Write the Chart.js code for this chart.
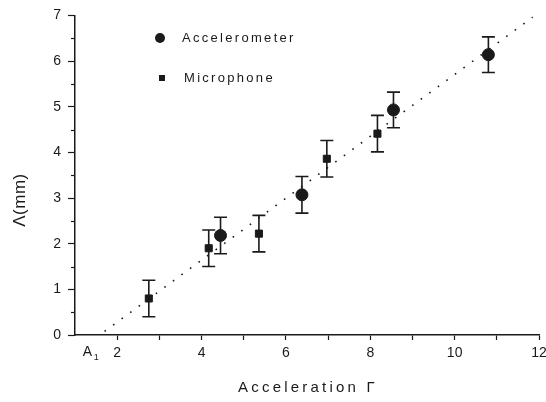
<!DOCTYPE html>
<html>
<head>
<meta charset="utf-8">
<script src="https://cdn.jsdelivr.net/npm/chart.js@4"></script>
<style>
  html, body { margin: 0; padding: 0; background: #fff; }
  #wrap { width: 546px; height: 402px; }
</style>
</head>
<body>
<div id="wrap"><canvas id="chart" width="546" height="402"></canvas></div>
<script>
// accelerometer readings (circles)
const accelX = [4.45, 6.38, 8.55, 10.8];
const accelY = [2.18, 3.07, 4.93, 6.14];
const accelErr = [0.4, 0.4, 0.39, 0.39];

// microphone readings (squares)
const micX = [2.75, 4.17, 5.36, 6.97, 8.17];
const micY = [0.8, 1.9, 2.22, 3.86, 4.41];
const micErr = [0.4, 0.4, 0.4, 0.4, 0.4];

// dotted linear fit
const fitX = [1.7, 11.85];
const fitY = [0.08, 6.96];

const xTickValues = [2, 3, 4, 5, 6, 7, 8, 9, 10, 11, 12];
const xTickLabels = ['2', '', '4', '', '6', '', '8', '', '10', '', '12'];
const yTickLabels = ['0', '1', '2', '3', '4', '5', '6', '7'];

const ink = '#1a1a1a';

function toPoints(xs, ys) {
    return xs.map((x, i) => ({ x: x, y: ys[i] }));
}

// error bars, minor ticks, legend, axis titles
const extras = {
    id: 'extras',
    afterDatasetsDraw(chart) {
        const ctx = chart.ctx;
        const xs = chart.scales.x;
        const ys = chart.scales.y;
        ctx.save();
        ctx.strokeStyle = ink;
        ctx.lineWidth = 1.6;
        const bars = [[accelX, accelY, accelErr], [micX, micY, micErr]];
        bars.forEach(([bx, by, be]) => {
            bx.forEach((x, i) => {
                const px = xs.getPixelForValue(x);
                const top = ys.getPixelForValue(by[i] + be[i]);
                const bot = ys.getPixelForValue(by[i] - be[i]);
                ctx.beginPath();
                ctx.moveTo(px, top); ctx.lineTo(px, bot);
                ctx.moveTo(px - 6.5, top); ctx.lineTo(px + 6.5, top);
                ctx.moveTo(px - 6.5, bot); ctx.lineTo(px + 6.5, bot);
                ctx.stroke();
            });
        });
        ctx.restore();
    },
    afterDraw(chart) {
        const ctx = chart.ctx;
        const xs = chart.scales.x;
        const ys = chart.scales.y;
        const area = chart.chartArea;
        ctx.save();
        ctx.strokeStyle = ink;
        ctx.lineWidth = 1.2;
        // minor y ticks halfway between labelled ones
        for (let v = 0.5; v < 7; v += 1) {
            const py = Math.round(ys.getPixelForValue(v)) + 0.5;
            ctx.beginPath();
            ctx.moveTo(area.left - 4, py); ctx.lineTo(area.left, py);
            ctx.stroke();
        }

        // legend
        ctx.fillStyle = ink;
        ctx.beginPath();
        ctx.arc(160, 38, 5, 0, Math.PI * 2);
        ctx.fill();
        ctx.fillRect(159, 75, 6, 6);
        ctx.font = '13px "Liberation Sans", Arial, sans-serif';
        ctx.letterSpacing = '2.3px';
        ctx.textBaseline = 'middle';
        ctx.textAlign = 'left';
        ctx.fillText('Accelerometer', 182, 38);
        ctx.fillText('Microphone', 184, 78);

        // A1 marker under the axis
        ctx.font = '14px "Liberation Sans", Arial, sans-serif';
        ctx.letterSpacing = '0px';
        ctx.textBaseline = 'top';
        const a1 = xs.getPixelForValue(1.3);
        ctx.fillText('A', a1 - 5, 345);
        ctx.font = '9px "Liberation Sans", Arial, sans-serif';
        ctx.fillText('1', a1 + 6, 353);

        // axis titles
        ctx.font = '15px "Liberation Sans", Arial, sans-serif';
        ctx.letterSpacing = '3.2px';
        ctx.textAlign = 'center';
        ctx.textBaseline = 'middle';
        ctx.fillText('Acceleration Γ', 308, 388);
        ctx.translate(20, 200);
        ctx.rotate(-Math.PI / 2);
        ctx.font = '17px "Liberation Sans", Arial, sans-serif';
        ctx.letterSpacing = '0.5px';
        ctx.fillText('Λ(mm)', 0, 0);
        ctx.restore();
    }
};

const ctx = document.getElementById('chart').getContext('2d');
new Chart(ctx, {
    type: 'scatter',
    data: {
        datasets: [
            {
                label: 'fit',
                type: 'line',
                data: toPoints(fitX, fitY),
                borderColor: ink,
                borderWidth: 1.6,
                borderDash: [1.6, 9],
                pointRadius: 0,
                fill: false
            },
            {
                label: 'Accelerometer',
                data: toPoints(accelX, accelY),
                pointStyle: 'circle',
                pointRadius: 6,
                backgroundColor: ink,
                borderColor: ink
            },
            {
                label: 'Microphone',
                data: toPoints(micX, micY),
                pointStyle: 'rect',
                pointRadius: 5,
                backgroundColor: ink,
                borderColor: ink
            }
        ]
    },
    options: {
        responsive: false,
        animation: false,
        layout: { padding: { left: 0, right: 3, top: 14, bottom: 0 } },
        plugins: {
            legend: { display: false },
            tooltip: { enabled: false }
        },
        scales: {
            x: {
                type: 'linear',
                min: 1,
                max: 12,
                afterFit: s => { s.height = 67; s.paddingRight = 0; },
                afterBuildTicks: s => { s.ticks = xTickValues.map(v => ({ value: v })); },
                border: { display: true, color: ink, width: 1.5 },
                grid: { drawOnChartArea: false, drawTicks: true, tickLength: 5, tickColor: ink, tickWidth: 1.2 },
                ticks: {
                    color: ink,
                    padding: 5,
                    maxRotation: 0,
                    autoSkip: false,
                    font: { size: 14, family: '"Liberation Sans", Arial, sans-serif' },
                    callback: (v, i) => xTickLabels[i]
                }
            },
            y: {
                min: 0,
                max: 7,
                afterFit: s => { s.width = 75; },
                border: { display: true, color: ink, width: 1.5 },
                grid: { drawOnChartArea: false, drawTicks: true, tickLength: 7, tickColor: ink, tickWidth: 1.2 },
                ticks: {
                    stepSize: 1,
                    color: ink,
                    padding: 7,
                    font: { size: 14, family: '"Liberation Sans", Arial, sans-serif' },
                    callback: (v, i) => yTickLabels[i]
                }
            }
        }
    },
    plugins: [extras]
});
</script>
</body>
</html>
